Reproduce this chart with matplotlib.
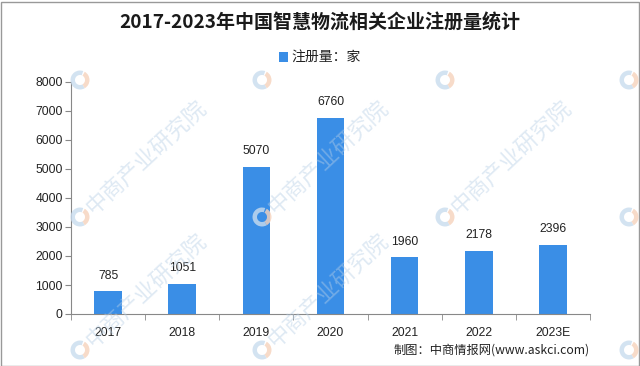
import matplotlib
matplotlib.use("Agg")
import matplotlib.pyplot as plt
from matplotlib.patches import Rectangle, Wedge

plt.rcParams['font.family'] = ['Noto Sans CJK SC', 'DejaVu Sans']

years = ["2017", "2018", "2019", "2020", "2021", "2022", "2023E"]
registrations = [785, 1051, 5070, 6760, 1960, 2178, 2396]
y_ticks = [0, 1000, 2000, 3000, 4000, 5000, 6000, 7000, 8000]

title = "2017-2023年中国智慧物流相关企业注册量统计"
legend_label = "注册量：家"
source = "制图：中商情报网(www.askci.com)"
watermark = "中商产业研究院"

bar_color = "#3a8ee6"
W, H = 640, 366

fig = plt.figure(figsize=(6.4, 3.66), dpi=100)

# faint watermark logos (background decoration)
wm_x = [-103, 80, 262, 445, 629]
wm_y = [-55, 80, 217, 350]
for lx in wm_x:
    for ly in wm_y:
        if (lx, ly) == (445, 350):
            continue
        cx, cy = lx / 100, (H - ly) / 100
        fig.patches.append(Wedge((cx, cy), 0.095, 70, 300, width=0.045,
                                 transform=fig.dpi_scale_trans, facecolor='#c9dcee',
                                 edgecolor='none', alpha=0.8, zorder=5))
        fig.patches.append(Wedge((cx, cy), 0.095, -60, 60, width=0.045,
                                 transform=fig.dpi_scale_trans, facecolor='#f6d2bc',
                                 edgecolor='none', alpha=0.8, zorder=5))

# watermark texts that lie fully inside the picture
wm_text_pos = [(80, 217), (262, 217), (445, 217), (80, 350), (262, 350)]
for lx, ly in wm_text_pos:
    fig.text((lx + 10) / W, 1 - (ly - 6) / H, watermark, rotation=43,
             rotation_mode='anchor', ha='left', va='center', fontsize=16,
             color='#b7cfe6', alpha=0.45, zorder=5)

ax = fig.add_axes([71/W, 1 - 314/H, (590-71)/W, (314-82)/H])

x = list(range(len(years)))
ax.bar(x, registrations, width=0.37, color=bar_color, zorder=2)
for xi, v in zip(x, registrations):
    ax.text(xi, v + 330, str(v), ha='center', va='bottom', fontsize=8.7, color='#222222',
            family='Liberation Sans')

ax.set_xlim(-0.5, len(years) - 0.5)
ax.set_ylim(0, 8000)
ax.set_yticks(y_ticks)
ax.set_yticklabels([str(t) for t in y_ticks], fontsize=8.7, color='#222222',
                   family='Liberation Sans')
ax.set_xticks(x)
ax.set_xticklabels(years, fontsize=8.7, color='#222222', family='Liberation Sans')
ax.tick_params(axis='x', length=0, pad=9)
ax.set_xticks([i + 0.5 for i in range(-1, len(years))], minor=True)
ax.tick_params(axis='x', which='minor', length=4, color='#888888', direction='out')
ax.tick_params(axis='y', length=4, color='#888888', direction='out', pad=2)
for s in ['top', 'right']:
    ax.spines[s].set_visible(False)
for s in ['left', 'bottom']:
    ax.spines[s].set_color('#888888')
    ax.spines[s].set_linewidth(0.8)
ax.patch.set_alpha(0)

fig.text(0.5, 1 - 23/H, title, ha='center', va='center', fontsize=13.7, fontweight='bold',
         color='#1a1a1a')
fig.patches.append(Rectangle((279/W, 1 - 62/H), 9/W, 10/H, transform=fig.transFigure,
                             facecolor=bar_color, edgecolor='none'))
fig.text(291/W, 1 - 57/H, legend_label, ha='left', va='center', fontsize=10, color='#222222')
fig.text(590/W, 1 - 350/H, source, ha='right', va='center', fontsize=8.8, color='#222222')

fig.patches.append(Rectangle((0.5/W, 0.5/H), 638/W, 364/H, transform=fig.transFigure,
                             facecolor='none', edgecolor='#999999', linewidth=1))

fig.savefig("out.png", dpi=100)
